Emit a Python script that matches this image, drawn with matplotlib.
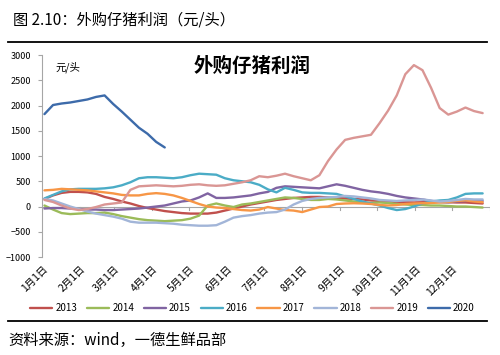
import numpy as np
import matplotlib
matplotlib.use("Agg")
import matplotlib.pyplot as plt

plt.rcParams['font.family'] = ['Noto Sans CJK SC', 'DejaVu Sans']

# weekly observations (day of year of each point)
days = [2 + 7 * i for i in range(52)]

y2013 = [150, 220, 270, 290, 290, 280, 250, 190, 150, 100, 60, 10, -30, -60, -90, -110,
         -130, -140, -140, -140, -120, -80, -40, 0, 40, 70, 100, 130, 150, 170, 180, 190,
         190, 180, 170, 160, 150, 140, 120, 110, 100, 90, 85, 80, 85, 85, 90, 85, 80, 80, 70, 60]
y2014 = [20, -60, -130, -150, -140, -130, -130, -120, -150, -190, -220, -250, -270, -280, -290, -280,
         -270, -240, -180, 20, 60, 20, -10, 40, 60, 90, 120, 150, 180, 170, 150, 130,
         130, 150, 140, 120, 100, 80, 70, 80, 70, 50, 40, 30, 30, 20, 20, 10, 0, 0, -10, -20]
y2015 = [-40, -30, -30, -40, -50, -60, -60, -70, -70, -60, -50, -40, -20, 0, 20, 60,
         100, 120, 180, 260, 170, 170, 180, 200, 220, 260, 290, 370, 400, 390, 380, 370,
         360, 400, 440, 410, 370, 330, 300, 280, 250, 210, 180, 160, 140, 110, 90, 85, 100, 110, 120, 110]
y2016 = [160, 230, 300, 340, 350, 350, 350, 360, 380, 420, 480, 560, 580, 580, 570, 560,
         580, 620, 650, 640, 630, 560, 520, 500, 480, 430, 340, 280, 370, 330, 280, 270,
         270, 260, 250, 200, 150, 100, 60, 20, -30, -70, -50, 0, 60, 100, 120, 130, 180, 250, 260, 260]
y2017 = [320, 330, 350, 340, 330, 320, 300, 280, 260, 230, 220, 220, 250, 265, 250, 220,
         170, 110, 50, 0, -20, -30, -50, -70, -80, -60, -10, -40, -70, -80, -110, -60,
         -10, 0, 50, 60, 65, 60, 50, 30, 20, 30, 50, 60, 65, 70, 80, 90, 110, 120, 100, 85]
y2018 = [150, 120, 60, 0, -50, -100, -140, -170, -200, -240, -300, -320, -320, -320, -330, -340,
         -360, -370, -380, -380, -370, -300, -220, -190, -170, -140, -120, -110, -60, 40, 110, 150,
         170, 180, 190, 210, 200, 180, 160, 130, 120, 110, 120, 130, 140, 120, 100, 110, 130, 150, 140, 140]
y2019 = [130, 90, 20, -40, -70, -50, -10, 40, 60, 80, 330, 400, 410, 420, 410, 400,
         410, 430, 440, 420, 410, 420, 450, 480, 520, 600, 580, 610, 650, 600, 560, 520,
         620, 900, 1130, 1320, 1360, 1390, 1420, 1650, 1900, 2200, 2620, 2800, 2700, 2350, 1950, 1820,
         1880, 1960, 1890, 1850]
y2020 = [1830, 2010, 2040, 2060, 2090, 2120, 2170, 2200, 2030, 1880, 1720, 1560, 1440, 1280, 1170]

years = ['2013', '2014', '2015', '2016', '2017', '2018', '2019', '2020']
colors = ['#C0504D', '#9BBB59', '#8064A2', '#4BACC6', '#F79646', '#A2B5D8', '#DA9694', '#3D6BAA']
series = [y2013, y2014, y2015, y2016, y2017, y2018, y2019, y2020]

month_starts = [0, 31, 59, 90, 120, 151, 181, 212, 243, 273, 304, 334]
month_labels = [f'{m}月1日' for m in range(1, 13)]

fig = plt.figure(figsize=(5, 3.55), dpi=100)
ax = fig.add_axes([0.084, 0.276, 0.896, 0.569])

for yr, c, vals in zip(years, colors, series):
    ax.plot(days[:len(vals)], vals, color=c, lw=1.7, label=yr, solid_capstyle='round')

ax.set_xlim(0, 365)
ax.set_ylim(-1000, 3000)
ax.set_yticks(range(-1000, 3001, 500))
ax.tick_params(axis='y', labelsize=6.5, length=3, color='#A6A6A6', pad=5)
ax.set_xticks(month_starts)
ax.set_xticklabels(month_labels, rotation=45, ha='right', rotation_mode='anchor', fontsize=7.5)
ax.tick_params(axis='x', length=0, pad=5)
for s in ['top', 'right', 'bottom']:
    ax.spines[s].set_visible(False)
ax.spines['left'].set_color('#A6A6A6')

# category axis crossing at zero
ax.axhline(0, color='#A6A6A6', lw=0.8, zorder=0)
for d in month_starts + [365]:
    ax.plot([d, d], [0, -60], color='#A6A6A6', lw=0.8, zorder=0)

ax.text(0.03, 0.97, '元/头', transform=ax.transAxes, fontsize=7.5, va='top')
ax.text(0.47, 0.945, '外购仔猪利润', transform=ax.transAxes, fontsize=14,
        fontweight='bold', ha='center', va='center')

fig.legend(loc='center', bbox_to_anchor=(0.505, 0.132), ncol=8, frameon=False,
           fontsize=7, handlelength=2.3, columnspacing=1.0, handletextpad=0.3)

fig.text(0.026, 0.943, '图 2.10：外购仔猪利润（元/头）', fontsize=11, va='center')
fig.add_artist(plt.Line2D([0.016, 0.974], [0.881, 0.881], color='black', lw=1.3))
fig.add_artist(plt.Line2D([0.016, 0.974], [0.097, 0.097], color='black', lw=1.3))
fig.text(0.016, 0.042, '资料来源：wind，一德生鲜品部', fontsize=11, va='center')

fig.savefig('out.png', dpi=100)
